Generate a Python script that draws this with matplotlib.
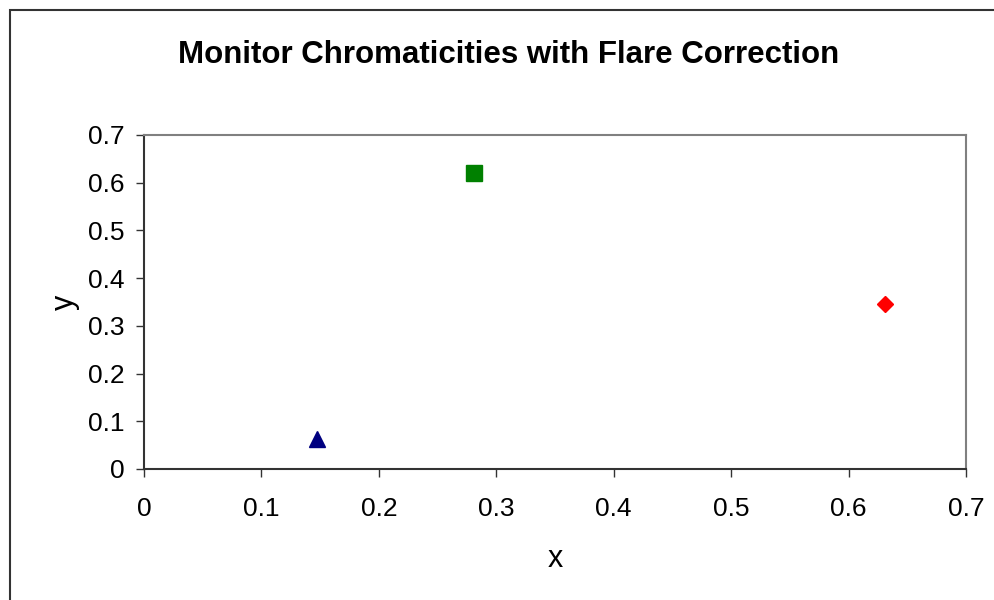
import matplotlib
matplotlib.use("Agg")
import matplotlib.pyplot as plt
from matplotlib.patches import Rectangle

plt.rcParams['font.family'] = ['Liberation Sans', 'DejaVu Sans']

series_names = ["Blue", "Green", "Red"]
x_vals = [0.147, 0.281, 0.631]
y_vals = [0.062, 0.621, 0.345]
markers = ["^", "s", "D"]
colors = ["#000080", "#008000", "#FF0000"]
sizes = [11, 11, 8.5]

xticks = [0, 0.1, 0.2, 0.3, 0.4, 0.5, 0.6, 0.7]
yticks = [0, 0.1, 0.2, 0.3, 0.4, 0.5, 0.6, 0.7]
xtick_labels = ["0", "0.1", "0.2", "0.3", "0.4", "0.5", "0.6", "0.7"]
ytick_labels = ["0", "0.1", "0.2", "0.3", "0.4", "0.5", "0.6", "0.7"]

fig = plt.figure(figsize=(9.95, 6.0), dpi=100)
fig.patches.append(Rectangle((10/995, -0.1), 1.2, 1 - 10/600 + 0.1,
                             transform=fig.transFigure, fill=False,
                             edgecolor='#333333', linewidth=1.5))

ax = fig.add_axes([144/995, 1 - 469/600, (966-144)/995, (469-135)/600])
for xv, yv, m, c, s in zip(x_vals, y_vals, markers, colors, sizes):
    ax.plot([xv], [yv], linestyle='none', marker=m, color=c, markersize=s,
            markeredgecolor=c, clip_on=False)

ax.set_xlim(0, 0.7)
ax.set_ylim(0, 0.7)
ax.set_xticks(xticks)
ax.set_xticklabels(xtick_labels)
ax.set_yticks(yticks)
ax.set_yticklabels(ytick_labels)
ax.tick_params(axis='both', direction='out', length=6, width=1, color='#333333',
               labelsize=19)
ax.tick_params(axis='x', pad=14)
ax.tick_params(axis='y', pad=8)
ax.spines['left'].set_color('#333333')
ax.spines['bottom'].set_color('#333333')
ax.spines['top'].set_color('#808080')
ax.spines['right'].set_color('#808080')
for sp in ax.spines.values():
    sp.set_linewidth(1.5)

ax.set_xlabel("x", fontsize=22, labelpad=17)
ax.set_ylabel("y", fontsize=22, labelpad=6)
fig.text(509/995, 1 - 55/600, "Monitor Chromaticities with Flare Correction",
         ha='center', va='center', fontsize=22.5, fontweight='bold')

fig.savefig("out.png", dpi=100)
